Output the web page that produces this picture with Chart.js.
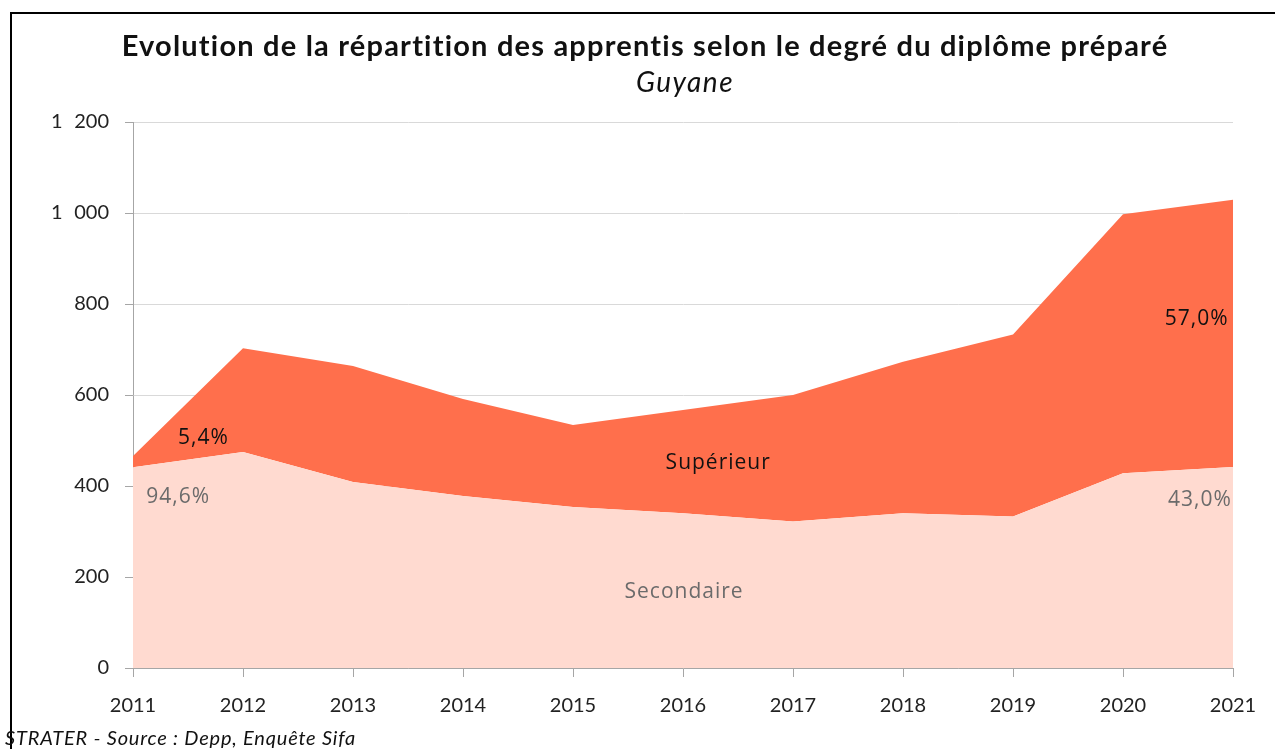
<!DOCTYPE html>
<html>
<head>
<meta charset="utf-8">
<script src="https://cdn.jsdelivr.net/npm/chart.js@4/dist/chart.umd.min.js"></script>
<style>
  html, body { margin: 0; padding: 0; background: #fff; }
  #wrap { position: relative; width: 1275px; height: 749px; overflow: hidden; }
  #frame { position: absolute; left: 10px; top: 12px; width: 1300px; height: 800px;
           border-left: 2px solid #000; border-top: 2px solid #000; }
  #title { position: absolute; left: 0; width: 1290px; top: 27px; text-align: center;
           font-family: Lato, sans-serif; font-weight: bold; font-size: 29px; letter-spacing: 1.2px; color: #111; }
  #subtitle { position: absolute; left: 0; width: 1370px; top: 64px; text-align: center;
           font-family: Lato, sans-serif; font-style: italic; font-size: 28px; letter-spacing: 1.5px; color: #111; }
  #footer { position: absolute; left: 5px; top: 725px;
           font-family: Lato, sans-serif; font-style: italic; font-size: 20px; letter-spacing: 0.8px; color: #111; }
  canvas { position: absolute; left: 0; top: 0; }
</style>
</head>
<body>
<div id="wrap">
  <div id="frame"></div>
  <canvas id="c" width="1275" height="749"></canvas>
  <div id="title">Evolution de la répartition des apprentis selon le degré du diplôme préparé</div>
  <div id="subtitle">Guyane</div>
  <div id="footer">STRATER - Source : Depp, Enquête Sifa</div>
</div>
<script>
const years = ['2011','2012','2013','2014','2015','2016','2017','2018','2019','2020','2021'];
const secondaire = [441, 475, 409, 378, 354, 340, 322, 340, 333, 428, 442];
const superieur  = [25, 228, 255, 213, 180, 227, 278, 333, 400, 569, 587];
const yTicks = [0, 200, 400, 600, 800, 1000, 1200];
const seriesNames = ['Secondaire', 'Supérieur'];

const annotations = [
  { text: '5,4%',       x: 0.64, y: 505, color: '#111111' },
  { text: '94,6%',      x: 0.41, y: 376, color: '#6b6b6b' },
  { text: 'Supérieur',  x: 5.32, y: 451, color: '#111111' },
  { text: 'Secondaire', x: 5.01, y: 167, color: '#6b6b6b' },
  { text: '57,0%',      x: 9.67, y: 767, color: '#111111' },
  { text: '43,0%',      x: 9.70, y: 369, color: '#6b6b6b' }
];

const labelPlugin = {
  id: 'areaLabels',
  afterDatasetsDraw(chart) {
    const ctx = chart.ctx;
    const xs = chart.scales.x, ys = chart.scales.y;
    ctx.save();
    ctx.font = '21px "Open Sans", sans-serif';
    if ('letterSpacing' in ctx) ctx.letterSpacing = '1px';
    ctx.textAlign = 'center';
    ctx.textBaseline = 'middle';
    annotations.forEach(a => {
      ctx.fillStyle = a.color;
      ctx.fillText(a.text, xs.getPixelForValue(a.x), ys.getPixelForValue(a.y));
    });
    ctx.restore();
  }
};

const fmt = v => String(v).replace(/\B(?=(\d{3})+(?!\d))/g, '\u2007');

new Chart(document.getElementById('c'), {
  type: 'line',
  data: {
    labels: years,
    datasets: [
      { label: seriesNames[0], data: secondaire, fill: 'origin',
        backgroundColor: '#FFDAD0', borderWidth: 0, pointRadius: 0, tension: 0 },
      { label: seriesNames[1], data: superieur, fill: '-1',
        backgroundColor: '#FF6F4C', borderWidth: 0, pointRadius: 0, tension: 0 }
    ]
  },
  options: {
    responsive: false,
    animation: false,
    devicePixelRatio: 1,
    layout: { padding: { top: 122, right: 42, bottom: 0, left: 0 } },
    plugins: { legend: { display: false }, title: { display: false }, tooltip: { enabled: false } },
    scales: {
      x: {
        type: 'category',
        offset: false,
        grid: { display: true, drawOnChartArea: false, drawTicks: true, tickLength: 9, tickColor: '#A6A6A6' },
        border: { display: true, color: '#A6A6A6', width: 1 },
        ticks: { color: '#222', font: { family: 'Lato, sans-serif', size: 20 }, padding: 17, maxRotation: 0, autoSkip: false },
        afterFit(s) { s.height = 81; }
      },
      y: {
        stacked: true,
        min: 0, max: 1200,
        afterBuildTicks(s) { s.ticks = yTicks.map(v => ({ value: v })); },
        grid: { color: '#D9D9D9', lineWidth: 1, tickLength: 8, tickColor: '#A6A6A6' },
        border: { display: true, color: '#A6A6A6', width: 1 },
        ticks: { color: '#222', font: { family: 'Lato, sans-serif', size: 20 }, padding: 16,
                 callback: v => fmt(v) },
        afterFit(s) { s.width = 133; }
      }
    }
  },
  plugins: [labelPlugin]
});
</script>
</body>
</html>
